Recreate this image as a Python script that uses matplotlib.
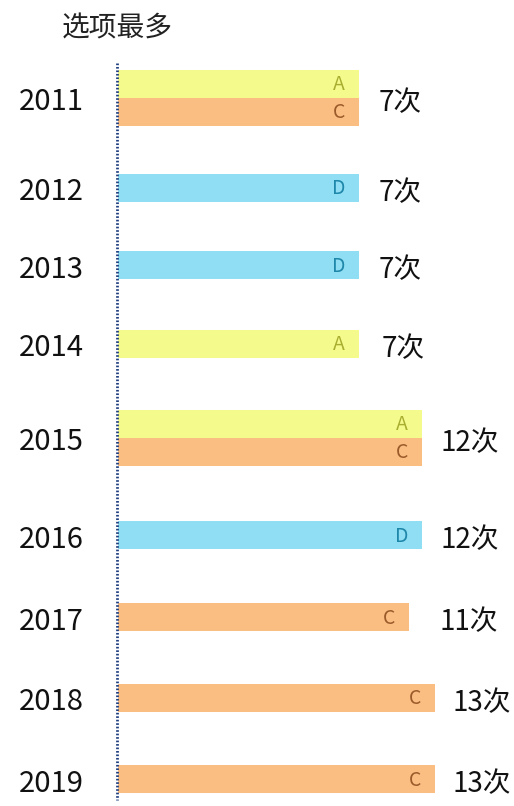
#!/usr/bin/env python3
"""Most frequent answer option per year, drawn as horizontal bars."""

import matplotlib

matplotlib.use("Agg")
import matplotlib.pyplot as plt

plt.rcParams["font.family"] = ["Noto Sans CJK SC", "DejaVu Sans"]

# Data.
YEARS = ["2011", "2012", "2013", "2014", "2015", "2016", "2017", "2018", "2019"]
TOP_OPTIONS = [["A", "C"], ["D"], ["D"], ["A"], ["A", "C"], ["D"], ["C"], ["C"], ["C"]]
COUNTS = [7, 7, 7, 7, 12, 12, 11, 13, 13]
TITLE = "选项最多"

# Layout (figure pixels, y measured from the top).
FIG_W, FIG_H = 514, 806
ROW_CENTER = [98, 188, 265, 344, 438, 535, 617, 698, 779]
BAR_H = 28
BASE_PX = 118          # where the bars start
BASE_VALUE = -12       # bar axis is offset, bars do not start at zero
PX_PER_UNIT = 12.67
COUNT_GAP_PX = [20, 20, 20, 23, 18, 18, 30, 18, 18]
LETTER_INSET_PX = 20

BAR_COLOR = {"A": "#f5fa8c", "C": "#fbbe82", "D": "#8fdef3"}
LETTER_COLOR = {"A": "#a8ae30", "C": "#9a5a2a", "D": "#1f87aa"}
TEXT_COLOR = "#111111"


def main():
    fig = plt.figure(figsize=(FIG_W / 100, FIG_H / 100), dpi=100)
    ax = fig.add_axes([0, 0, 1, 1])
    ax.set_xlim(BASE_VALUE - BASE_PX / PX_PER_UNIT,
                BASE_VALUE + (FIG_W - BASE_PX) / PX_PER_UNIT)
    ax.set_ylim(FIG_H, 0)
    ax.axis("off")

    px = 1 / PX_PER_UNIT  # one pixel in data units along x

    for year, options, count, yc, gap in zip(YEARS, TOP_OPTIONS, COUNTS,
                                             ROW_CENTER, COUNT_GAP_PX):
        n = len(options)
        top = yc - n * BAR_H / 2
        for i, opt in enumerate(options):
            y = top + BAR_H * (i + 0.5)
            ax.barh(y, count - BASE_VALUE, left=BASE_VALUE, height=BAR_H,
                    color=BAR_COLOR[opt], linewidth=0)
            ax.text(count - LETTER_INSET_PX * px, y + 1, opt,
                    ha="center", va="center", fontsize=14,
                    color=LETTER_COLOR[opt])
        ax.text(BASE_VALUE - 67 * px, yc + 1, year, ha="center",
                va="center_baseline", fontsize=21, color=TEXT_COLOR)
        ax.text(count + gap * px, yc + 2, f"{count}次", ha="left",
                va="center_baseline", fontsize=20, color=TEXT_COLOR)

    # dotted baseline
    ax.plot([BASE_VALUE - 1 * px] * 2, [63, 800], color="#1f3f80",
            linewidth=2, linestyle=(0, (0.6, 0.65)))

    ax.text(BASE_VALUE - 56 * px, 25, TITLE, ha="left",
            va="center_baseline", fontsize=20, color="#222222")

    fig.savefig("out.png", dpi=100)
    plt.close(fig)


if __name__ == "__main__":
    main()
